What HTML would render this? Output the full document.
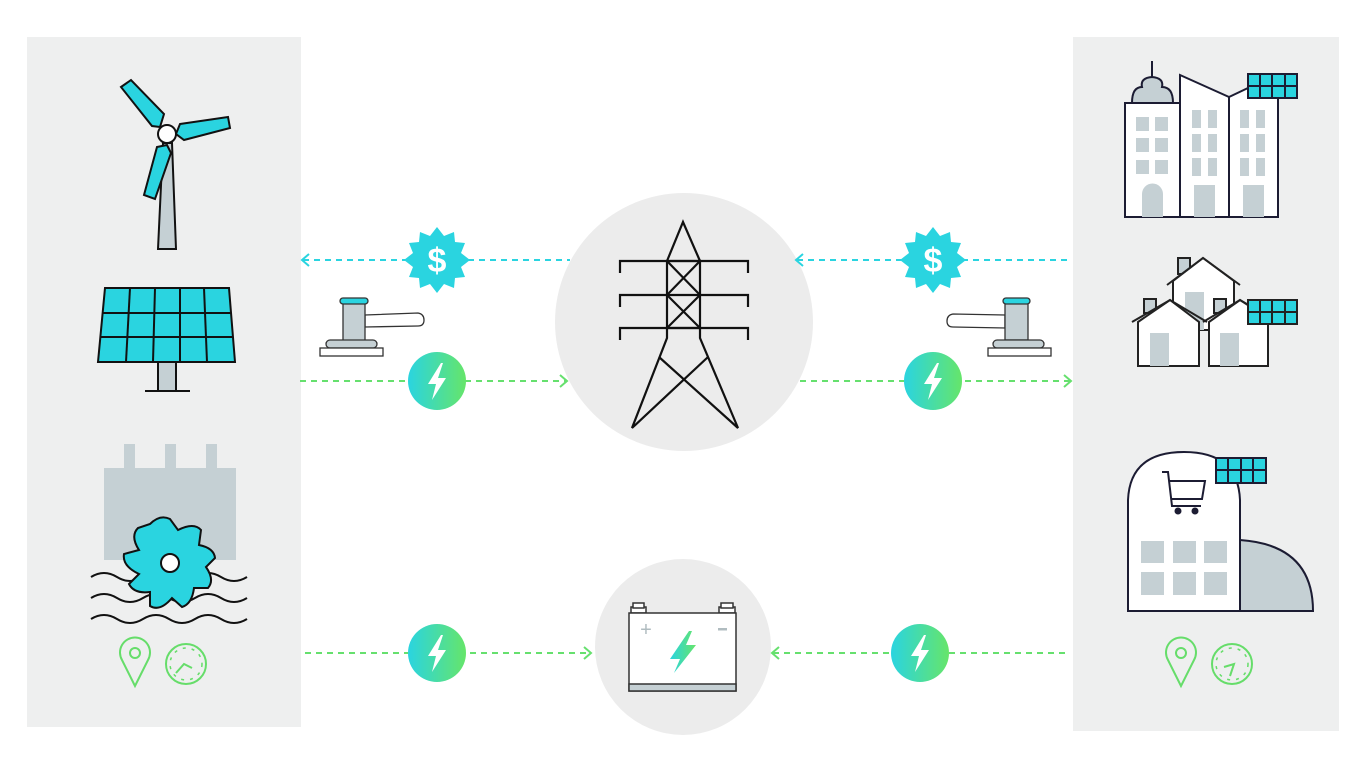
<!DOCTYPE html>
<html><head><meta charset="utf-8"><style>html,body{margin:0;padding:0;background:#fff}svg{display:block}</style></head>
<body>
<svg width="1365" height="767" viewBox="0 0 1365 767" xmlns="http://www.w3.org/2000/svg" font-family="Liberation Sans, sans-serif">
<defs>
<linearGradient id="g" x1="0" y1="0" x2="1" y2="0"><stop offset="0" stop-color="#2ad4e0"/><stop offset="1" stop-color="#66e56a"/></linearGradient>
<g id="bolt"><path d="M4,-18 L-9,3 L-1,3 L-5,19 L9,-3 L1,-3 L6,-18 Z" fill="#fff"/></g>
<g id="burst"><polygon fill="#2ad4e0" points="0,-33 7,-24 17,-28 18,-18 28,-17 24,-7 33,0 24,7 28,17 18,18 17,28 7,24 0,33 -7,24 -17,28 -18,18 -28,17 -24,7 -33,0 -24,-7 -28,-17 -18,-18 -17,-28 -7,-24"/><text x="0" y="12" text-anchor="middle" font-size="34" font-weight="bold" fill="#fff">$</text></g>
</defs>
<rect x="27" y="37" width="274" height="690" fill="#eeefef"/>
<rect x="1073" y="37" width="266" height="694" fill="#eeefef"/>
<circle cx="684" cy="322" r="129" fill="#ececec"/>
<circle cx="683" cy="647" r="88" fill="#ececec"/>

<g fill="none" stroke-width="2" stroke-dasharray="6,5">
<line x1="303" y1="260" x2="570" y2="260" stroke="#2ad4e0"/>
<line x1="797" y1="260" x2="1072" y2="260" stroke="#2ad4e0"/>
<line x1="300" y1="381" x2="566" y2="381" stroke="#66e06e"/>
<line x1="800" y1="381" x2="1070" y2="381" stroke="#66e06e"/>
<line x1="305" y1="653" x2="590" y2="653" stroke="#66e06e"/>
<line x1="773" y1="653" x2="1068" y2="653" stroke="#66e06e"/>
</g>
<g fill="none" stroke-width="2">
<polyline points="309,254 302,260 309,266" stroke="#2ad4e0"/>
<polyline points="803,254 796,260 803,266" stroke="#2ad4e0"/>
<polyline points="560,375 567,381 560,387" stroke="#66e06e"/>
<polyline points="1064,375 1071,381 1064,387" stroke="#66e06e"/>
<polyline points="584,647 591,653 584,659" stroke="#66e06e"/>
<polyline points="779,647 772,653 779,659" stroke="#66e06e"/>
</g>
<use href="#burst" x="437" y="260"/>
<use href="#burst" x="933" y="260"/>
<g><circle cx="437" cy="381" r="29" fill="url(#g)"/><use href="#bolt" x="437" y="381"/></g>
<g><circle cx="933" cy="381" r="29" fill="url(#g)"/><use href="#bolt" x="933" y="381"/></g>
<g><circle cx="437" cy="653" r="29" fill="url(#g)"/><use href="#bolt" x="437" y="653"/></g>
<g><circle cx="920" cy="653" r="29" fill="url(#g)"/><use href="#bolt" x="920" y="653"/></g>

<g stroke="#333" stroke-width="1.3">
<path d="M365,315 L418,313 Q424,314 424,320 Q424,326 418,326 L365,327 Z" fill="#fff"/>
<rect x="343" y="303" width="22" height="38" fill="#c5d0d4"/>
<rect x="340" y="298" width="28" height="6" rx="3" fill="#2ad4e0"/>
<rect x="326" y="340" width="51" height="8" rx="4" fill="#c5d0d4"/>
<rect x="320" y="348" width="63" height="8" fill="#fff"/>
<path d="M1005,315 L953,314 Q947,315 947,321 Q947,327 953,327 L1005,328 Z" fill="#fff"/>
<rect x="1005" y="303" width="23" height="37" fill="#c5d0d4"/>
<rect x="1003" y="298" width="27" height="6" rx="3" fill="#2ad4e0"/>
<rect x="993" y="340" width="51" height="8" rx="4" fill="#c5d0d4"/>
<rect x="988" y="348" width="63" height="8" fill="#fff"/>
</g>

<g fill="none" stroke="#111" stroke-width="2.2">
<polyline points="667,261 683,222 700,261"/>
<rect x="667" y="261" width="33" height="67"/>
<line x1="667" y1="261" x2="700" y2="295"/><line x1="700" y1="261" x2="667" y2="295"/>
<line x1="667" y1="295" x2="700" y2="328"/><line x1="700" y1="295" x2="667" y2="328"/>
<polyline points="620,273 620,261 748,261 748,273"/>
<polyline points="620,307 620,295 748,295 748,307"/>
<polyline points="620,340 620,328 748,328 748,340"/>
<polyline points="667,328 667,338 632,428 708,357"/>
<polyline points="700,328 700,338 738,428 659,357"/>
</g>

<g stroke="#333" stroke-width="1.5">
<rect x="631" y="607" width="15" height="6" fill="#fff"/><rect x="633" y="603" width="11" height="5" fill="#fff"/>
<rect x="719" y="607" width="16" height="6" fill="#fff"/><rect x="721" y="603" width="12" height="5" fill="#fff"/>
<rect x="629" y="613" width="107" height="78" fill="#fff"/>
<rect x="629" y="684" width="107" height="7" fill="#c5d0d4"/>
</g>
<text x="646" y="636" font-size="20" fill="#b0bcc0" text-anchor="middle">+</text>
<rect x="718" y="628" width="9" height="2.5" fill="#b0bcc0"/>
<path d="M689,631 L670,659 L680,659 L674,673 L696,645 L686,645 L692,631 Z" fill="url(#g)"/>

<g stroke="#111" stroke-width="2">
<polygon points="163,143 172,143 176,249 158,249" fill="#c5d0d4"/>
<polygon points="121,87 131,80 164,114 160,127 152,126" fill="#2ad4e0"/>
<polygon points="180,124 228,117 230,128 184,140 176,134" fill="#2ad4e0"/>
<polygon points="157,147 167,145 171,153 155,199 144,195" fill="#2ad4e0"/>
<circle cx="167" cy="134" r="9" fill="#fff"/>
</g>
<g stroke="#111" stroke-width="2">
<rect x="158" y="362" width="18" height="29" fill="#c5d0d4"/>
<line x1="145" y1="391" x2="190" y2="391"/>
<polygon points="105,288 229,288 235,362 98,362" fill="#2ad4e0"/>
<line x1="102" y1="313" x2="231" y2="313"/><line x1="100" y1="337" x2="233" y2="337"/>
<line x1="130" y1="288" x2="126" y2="362"/><line x1="155" y1="288" x2="153" y2="362"/><line x1="180" y1="288" x2="180" y2="362"/><line x1="204" y1="288" x2="207" y2="362"/>
</g>
<g fill="#c5d0d4"><rect x="104" y="468" width="132" height="92"/><rect x="124" y="444" width="11" height="26"/><rect x="165" y="444" width="11" height="26"/><rect x="206" y="444" width="11" height="26"/></g>
<g fill="none" stroke="#111" stroke-width="2">
<path d="M91,577 q13,-8 26,0 t26,0 t26,0 t26,0 t26,0 t26,0"/>
<path d="M91,598 q13,-8 26,0 t26,0 t26,0 t26,0 t26,0 t26,0"/>
</g>
<g stroke="#111" stroke-width="2" fill="#2ad4e0">
<path d="M150,524 Q160,514 170,519 L178,530 Q194,522 201,530 L199,545 Q214,548 215,558 L206,567 Q215,580 208,588 L194,588 Q192,604 182,607 L172,598 Q160,612 150,606 L150,592 Q134,594 129,584 L139,574 Q122,566 124,554 L139,550 Q130,536 138,528 Z"/>
</g>
<circle cx="170" cy="563" r="9" fill="#fff" stroke="#111" stroke-width="2"/>
<path d="M91,619 q13,-8 26,0 t26,0 t26,0 t26,0 t26,0 t26,0" fill="none" stroke="#111" stroke-width="2"/>

<g fill="none" stroke="#66dd6a" stroke-width="2">
<path d="M135,686 L122,660 A15,15 0 1 1 148,660 Z"/><circle cx="135" cy="653" r="5"/>
<circle cx="186" cy="664" r="20"/><polyline points="176,673 184,664 192,668"/>
<path d="M1181,686 L1168,660 A15,15 0 1 1 1194,660 Z"/><circle cx="1181" cy="653" r="5"/>
<circle cx="1232" cy="664" r="20"/><polyline points="1224,667 1234,664 1230,676"/>
</g>
<g stroke="#66dd6a" stroke-width="1.5" stroke-dasharray="3,6" fill="none"><circle cx="186" cy="664" r="16"/><circle cx="1232" cy="664" r="16"/></g>

<g stroke="#1c1c33" stroke-width="2">
<line x1="1152" y1="61" x2="1152" y2="80"/>
<path d="M1132,103 Q1132,87 1142,87 Q1140,78 1152,77 Q1164,78 1162,87 Q1173,87 1173,103 Z" fill="#c5d0d4"/>
<rect x="1125" y="103" width="55" height="114" fill="#fff"/>
<polygon points="1180,75 1229,97 1229,217 1180,217" fill="#fff"/>
<polygon points="1229,97 1248,88 1278,88 1278,217 1229,217" fill="#fff"/>
<rect x="1248" y="74" width="49" height="24" fill="#2ad4e0"/>
<line x1="1260" y1="74" x2="1260" y2="98"/><line x1="1272" y1="74" x2="1272" y2="98"/><line x1="1285" y1="74" x2="1285" y2="98"/><line x1="1248" y1="86" x2="1297" y2="86"/>
</g>
<g fill="#c5d0d4">
<rect x="1136" y="117" width="13" height="14"/><rect x="1155" y="117" width="13" height="14"/>
<rect x="1136" y="138" width="13" height="14"/><rect x="1155" y="138" width="13" height="14"/>
<rect x="1136" y="160" width="13" height="14"/><rect x="1155" y="160" width="13" height="14"/>
<path d="M1142,217 L1142,194 A10.5,10.5 0 0 1 1163,194 L1163,217 Z"/>
<rect x="1192" y="110" width="9" height="18"/><rect x="1208" y="110" width="9" height="18"/>
<rect x="1192" y="134" width="9" height="18"/><rect x="1208" y="134" width="9" height="18"/>
<rect x="1192" y="158" width="9" height="18"/><rect x="1208" y="158" width="9" height="18"/>
<rect x="1194" y="185" width="21" height="32"/>
<rect x="1240" y="110" width="9" height="18"/><rect x="1256" y="110" width="9" height="18"/>
<rect x="1240" y="134" width="9" height="18"/><rect x="1256" y="134" width="9" height="18"/>
<rect x="1240" y="158" width="9" height="18"/><rect x="1256" y="158" width="9" height="18"/>
<rect x="1243" y="185" width="21" height="32"/>
</g>

<g stroke="#222" stroke-width="2">
<rect x="1178" y="258" width="12" height="16" fill="#c5d0d4"/>
<polygon points="1173,281 1203,258 1234,281 1234,330 1173,330" fill="#fff"/>
<polyline points="1167,285 1203,258 1240,285" fill="none"/>
</g>
<rect x="1185" y="292" width="19" height="38" fill="#c5d0d4"/>
<g stroke="#222" stroke-width="2">
<rect x="1144" y="299" width="12" height="14" fill="#c5d0d4"/>
<rect x="1214" y="299" width="12" height="14" fill="#c5d0d4"/>
<polygon points="1138,322 1170,300 1199,322 1199,366 1138,366" fill="#fff"/>
<polyline points="1132,322 1170,300 1207,322" fill="none"/>
<polygon points="1209,322 1240,300 1268,318 1268,366 1209,366" fill="#fff"/>
<polyline points="1203,322 1240,300 1252,307" fill="none"/>
<rect x="1248" y="300" width="49" height="24" fill="#2ad4e0"/>
<line x1="1260" y1="300" x2="1260" y2="324"/><line x1="1272" y1="300" x2="1272" y2="324"/><line x1="1285" y1="300" x2="1285" y2="324"/><line x1="1248" y1="312" x2="1297" y2="312"/>
</g>
<g fill="#c5d0d4"><rect x="1150" y="333" width="19" height="33"/><rect x="1220" y="333" width="19" height="33"/></g>

<g stroke="#1c1c33" stroke-width="2">
<path d="M1240,540 Q1313,545 1313,611 L1240,611 Z" fill="#c5d0d4"/>
<path d="M1128,611 L1128,500 Q1130,452 1184,452 Q1238,452 1240,500 L1240,611 Z" fill="#fff"/>
<rect x="1216" y="458" width="50" height="25" fill="#2ad4e0"/>
<line x1="1228" y1="458" x2="1228" y2="483"/><line x1="1241" y1="458" x2="1241" y2="483"/><line x1="1253" y1="458" x2="1253" y2="483"/><line x1="1216" y1="470" x2="1266" y2="470"/>
<polyline points="1162,472 1168,472 1172,506 1201,506" fill="none"/>
<polyline points="1169,481 1205,481 1202,499 1171,499" fill="none"/>
</g>
<circle cx="1178" cy="511" r="3.5" fill="#1c1c33"/><circle cx="1195" cy="511" r="3.5" fill="#1c1c33"/>
<g fill="#c5d0d4">
<rect x="1141" y="541" width="23" height="22"/><rect x="1173" y="541" width="23" height="22"/><rect x="1204" y="541" width="23" height="22"/>
<rect x="1141" y="572" width="23" height="23"/><rect x="1173" y="572" width="23" height="23"/><rect x="1204" y="572" width="23" height="23"/>
</g>
</svg>
</body></html>
